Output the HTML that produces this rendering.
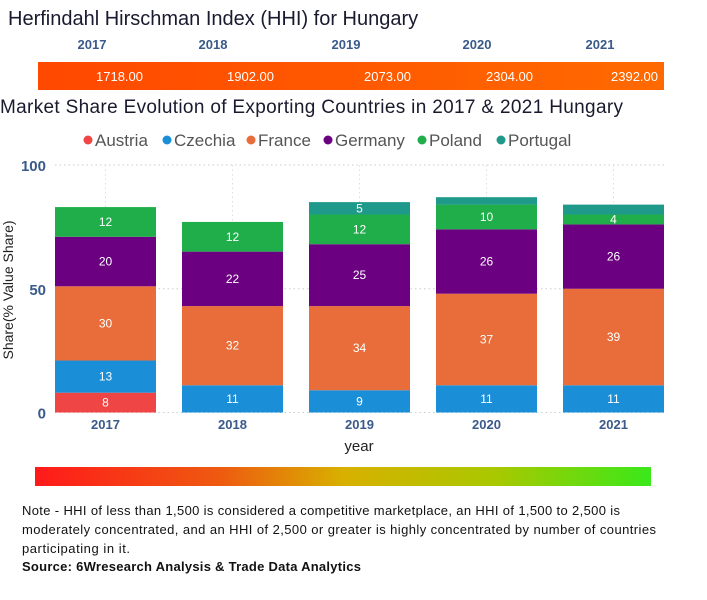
<!DOCTYPE html>
<html><head><meta charset="utf-8"><style>
html,body{margin:0;padding:0;background:#fff;}
svg{display:block;font-family:"Liberation Sans",sans-serif;}
</style></head><body>
<svg id="c" width="707" height="600" viewBox="0 0 707 600">
<defs>
<linearGradient id="hg" x1="0" x2="1"><stop offset="0" stop-color="#ff4800"/><stop offset="1" stop-color="#ff6a00"/></linearGradient>
<linearGradient id="sg" x1="0" x2="1"><stop offset="0" stop-color="#ff1a1a"/><stop offset="0.3" stop-color="#ee5a10"/><stop offset="0.5" stop-color="#d8b000"/><stop offset="0.75" stop-color="#a8c800"/><stop offset="1" stop-color="#3ae81a"/></linearGradient>
</defs>
<text x="8" y="25" font-size="20" fill="#1a1a2e">Herfindahl Hirschman Index (HHI) for Hungary</text>
<g id="hhi"></g>
<text x="0" y="113" font-size="19" fill="#1a1a2e" textLength="623">Market Share Evolution of Exporting Countries in 2017 &amp; 2021 Hungary</text>
<g id="legend"></g>
<g id="grid"></g>
<g id="bars"></g>
<g id="axes"></g>
<text transform="translate(13,290) rotate(-90)" text-anchor="middle" font-size="14" fill="#222">Share(% Value Share)</text>
<text x="359" y="451" text-anchor="middle" font-size="15" fill="#222">year</text>
<rect x="35" y="467" width="616" height="19" fill="url(#sg)"/>
<g font-size="13" fill="#111">
<text x="22" y="515" textLength="598">Note - HHI of less than 1,500 is considered a competitive marketplace, an HHI of 1,500 to 2,500 is</text>
<text x="22" y="534" textLength="634">moderately concentrated, and an HHI of 2,500 or greater is highly concentrated by number of countries</text>
<text x="22" y="553" textLength="108">participating in it.</text>
<text x="22" y="571" font-weight="bold" textLength="339">Source: 6Wresearch Analysis &amp; Trade Data Analytics</text>
</g>
</svg>
<script>
const years=["2017","2018","2019","2020","2021"];
const hhiValues=[1718,1902,2073,2304,2392];
const countries=["Austria","Czechia","France","Germany","Poland","Portugal"];
const colors=["#f04545","#1a8fd8","#e86d3a","#6b0080","#1fae4a","#1f9a8a"];
const austria=[8,0,0,0,0];
const czechia=[13,11,9,11,11];
const france=[30,32,34,37,39];
const germany=[20,22,25,26,26];
const poland=[12,12,12,10,4];
const portugal=[0,0,5,3,4];
const series=[austria,czechia,france,germany,poland,portugal];
const yTicks=[0,50,100];
const NS="http://www.w3.org/2000/svg";
function mk(t,a,p){const e=document.createElementNS(NS,t);for(const k in a)e.setAttribute(k,a[k]);p.appendChild(e);return e;}
const y0=412.5,y1=165,plotL=55,plotR=664;
const yS=v=>y0-(y0-y1)*v/100;
const step=127,bw=101;
const xC=i=>105.5+i*step;
// HHI strip
const hhi=document.getElementById('hhi');
const hb=mk('rect',{x:38,y:62,width:626,height:28,fill:'url(#hg)'},hhi);


const hyX=[92,213,346,477,600];
const hvX=[143,274,411,533,658];
years.forEach((yr,i)=>{
 const t=mk('text',{x:hyX[i],y:49,'text-anchor':'middle','font-size':13,'font-weight':'bold',fill:'#3a5a8a'},hhi);t.textContent=yr;
 
 
 const v=mk('text',{x:hvX[i],y:81,'text-anchor':'end','font-size':13,fill:'#fff'},hhi);v.textContent=hhiValues[i].toFixed(2);
 
 
});
// legend
const lg=document.getElementById('legend');
const lx=[88,167,251,328,422,501];
countries.forEach((c,i)=>{
 const g=mk('g',{},lg);
 
 
 mk('circle',{cx:lx[i],cy:140,r:4.5,fill:colors[i]},g);
 const t=mk('text',{x:lx[i]+7,y:146,'font-size':17,fill:'#555'},g);t.textContent=c;
});
// grid
const gr=document.getElementById('grid');
yTicks.forEach(v=>{
 mk('line',{x1:plotL,x2:plotR,y1:yS(v),y2:yS(v),stroke:'#ccc','stroke-dasharray':'1.5,3'},gr);
});
years.forEach((yr,i)=>{mk('line',{x1:xC(i),x2:xC(i),y1:y1,y2:y0,stroke:'#ddd','stroke-dasharray':'1.5,3'},gr);});
// bars
const bg=document.getElementById('bars');
years.forEach((yr,i)=>{
 let acc=0;
 series.forEach((s,k)=>{
  const v=s[i]; if(!v) return;
  const top=yS(acc+v),bot=yS(acc);
  const r=mk('rect',{x:xC(i)-bw/2,y:top,width:bw,height:bot-top,fill:colors[k]},bg);
  
  
  if(!(k==5&&v<5)){
   const t=mk('text',{x:xC(i),y:(top+bot)/2+4,'text-anchor':'middle','font-size':12,fill:'#fff'},bg);t.textContent=v;
   
   
  }
  acc+=v;
 });
});
// axes labels
const ax=document.getElementById('axes');
yTicks.forEach(v=>{
 const t=mk('text',{x:46,y:yS(v)+6,'text-anchor':'end','font-size':15,'font-weight':'bold',fill:'#3a5a8a'},ax);t.textContent=v;
 
 
});
years.forEach((yr,i)=>{
 const t=mk('text',{x:xC(i),y:429,'text-anchor':'middle','font-size':13,'font-weight':'bold',fill:'#3a5a8a'},ax);t.textContent=yr;
 
 
});
</script>
</body></html>
